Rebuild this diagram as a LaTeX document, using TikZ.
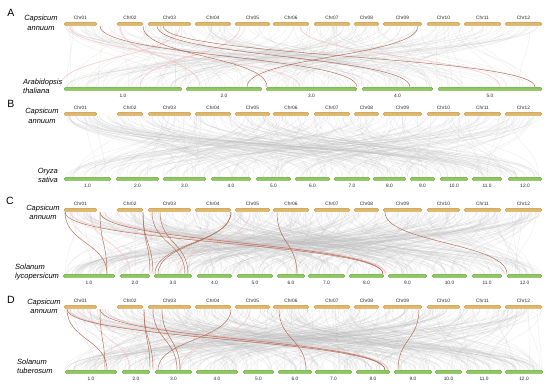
\documentclass[tikz,border=0pt]{standalone}
\usepackage{fontspec}
\setmainfont{Liberation Sans}
\definecolor{topfill}{HTML}{E2B868}
\definecolor{topdraw}{HTML}{C49A4A}
\definecolor{botfill}{HTML}{8FC860}
\definecolor{botdraw}{HTML}{6CA444}
\definecolor{linkred}{HTML}{B06A52}
\definecolor{synt}{HTML}{BDBDBD}
\definecolor{pinkl}{HTML}{F4B8BE}
\tikzset{
 bar/.style={rounded corners=1.6pt, minimum height=3.4pt, inner sep=0pt, line width=0.4pt},
 topbar/.style={bar, fill=topfill, draw=topdraw},
 botbar/.style={bar, fill=botfill, draw=botdraw},
 chrlab/.style={font=\fontsize{4.8}{5}\selectfont, inner sep=0pt, text=black!85},
 species/.style={font=\fontsize{7.5}{9}\selectfont\itshape, inner sep=0pt},
 panel/.style={font=\fontsize{10.5}{12}\selectfont, inner sep=0pt},
 synteny/.style={draw=synt, line width=0.35pt, opacity=0.28},
 redlink/.style={draw=linkred, line width=0.45pt},
 pinklink/.style={draw=pinkl, line width=0.8pt, opacity=0.6},
}
\newcommand\toprow[2]{%
 \foreach \n/\a/\b in {01/64/97, 02/117/143, 03/148/191, 04/195/231, 05/235/270, 06/273/309, 07/314/350, 08/354/379, 09/383/422, 10/427/460, 11/464/501, 12/505/542}{
  \node[topbar, minimum width={(\b-\a)*1pt}] (#1\n) at ({(\a+\b)/2},#2) {};
  \node[chrlab, above=2.6pt] (#1l\n) at (#1\n.north) {Chr\n};
 }}
\newcommand\botrow[3]{%
 \foreach \n/\a/\b in {#3}{
  \node[botbar, minimum width={(\b-\a)*1pt}] (#1\n) at ({(\a+\b)/2},#2) {};
  \node[chrlab, below=2.6pt] (#1l\n) at (#1\n.south) {\n.0};
 }}
\newcommand\graylinks[4]{%
 \pgfmathsetseed{#4}
 \foreach \i in {1,...,#3}{
  \pgfmathsetmacro\xa{64+rnd*478}
  \pgfmathsetmacro\xb{64+rnd*478}
  \draw[synteny] (\xa,#1) .. controls (\xa,{(#1+#2)/2}) and (\xb,{(#1+#2)/2}) .. (\xb,#2);
 }}
\newcommand\rlink[5]{%
 \coordinate (rs) at (#3,#1);
 \coordinate (re) at (#4,#2);
 \draw[#5] (rs) .. controls (#3,{(#1+#2)/2}) and (#4,{(#1+#2)/2}) .. (re);}
\begin{document}
\begin{tikzpicture}[x=1pt,y=-1pt]
\useasboundingbox[fill=white] (0,0) rectangle (550,386);
% background synteny
\graylinks{26}{87}{180}{11}
\graylinks{116}{177}{260}{23}
\graylinks{212}{274}{380}{37}
\graylinks{309}{370}{380}{41}
% pink highlight links
\foreach \p/\q in {70/300, 120/200, 180/60, 240/140, 300/500}{\rlink{26}{87}{\p}{\q}{pinklink}}
\foreach \p/\q in {70/386, 105/386, 90/130, 250/180}{\rlink{212}{274}{\p}{\q}{pinklink}}
\foreach \p/\q in {70/388, 105/388, 90/130, 250/180}{\rlink{309}{370}{\p}{\q}{pinklink}}
% red links A
\foreach \p/\q in {100/357, 143/267, 157/410, 163/535, 418/247}{\rlink{26}{87}{\p}{\q}{redlink}}
% red links C
\foreach \p/\q in {65/107, 100/107, 65/383, 100/383, 143/150, 143/153, 152/185, 160/188, 231/155, 231/158, 277/297, 385/507}{\rlink{212}{274}{\p}{\q}{redlink}}
% red links D
\foreach \p/\q in {67/107, 100/105, 67/385, 100/385, 144/150, 144/153, 153/177, 162/180, 231/158, 279/306, 419/398}{\rlink{309}{370}{\p}{\q}{redlink}}
% bars
\toprow{at}{24}
\toprow{bt}{114}
\toprow{ct}{210}
\toprow{dt}{307}
\botrow{ab}{89}{1/64/182, 2/186/262, 3/266/357, 4/362/433, 5/438/542}
\botrow{bb}{179}{1/64/111, 2/116/159, 3/163/206, 4/211/251, 5/256/291, 6/295/330, 7/334/370, 8/373/406, 9/410/435, 10/440/468, 11/472/502, 12/508/542}
\botrow{cb}{276}{1/63/115, 2/120/150, 3/154/192, 4/197/232, 5/237/273, 6/277/305, 7/308/345, 8/349/384, 9/388/427, 10/432/467, 11/472/502, 12/507/542}
\botrow{db}{372}{1/65/117, 2/122/150, 3/155/192, 4/196/238, 5/243/274, 6/278/312, 7/315/352, 8/356/390, 9/394/432, 10/435/462, 11/466/502, 12/505/543}
% species labels
\node[species, align=center, font=\fontsize{7.5}{10}\selectfont\itshape] (spa1) at (41,23) {Capsicum\\annuum};
\node[species, align=left, anchor=west] (spa2) at (23,86.5) {Arabidopsis\\thaliana};
\node[species, align=center, font=\fontsize{7.5}{10}\selectfont\itshape] (spb1) at (42,116) {Capsicum\\annuum};
\node[species, align=right, anchor=east] (spb2) at (58,175.5) {Oryza\\sativa};
\node[species, align=center] (spc1) at (43,212.5) {Capsicum\\annuum};
\node[species, align=left, anchor=west] (spc2) at (15,272.5) {Solanum\\lycopersicum};
\node[species, align=center] (spd1) at (44,306.5) {Capsicum\\annuum};
\node[species, align=left, anchor=west] (spd2) at (17,366.5) {Solanum\\tuberosum};
% panel letters
\node[panel] (pa) at (11,12.5) {A};
\node[panel] (pb) at (11,103.5) {B};
\node[panel] (pc) at (10,200.5) {C};
\node[panel] (pd) at (11,300) {D};
\end{tikzpicture}
\end{document}
